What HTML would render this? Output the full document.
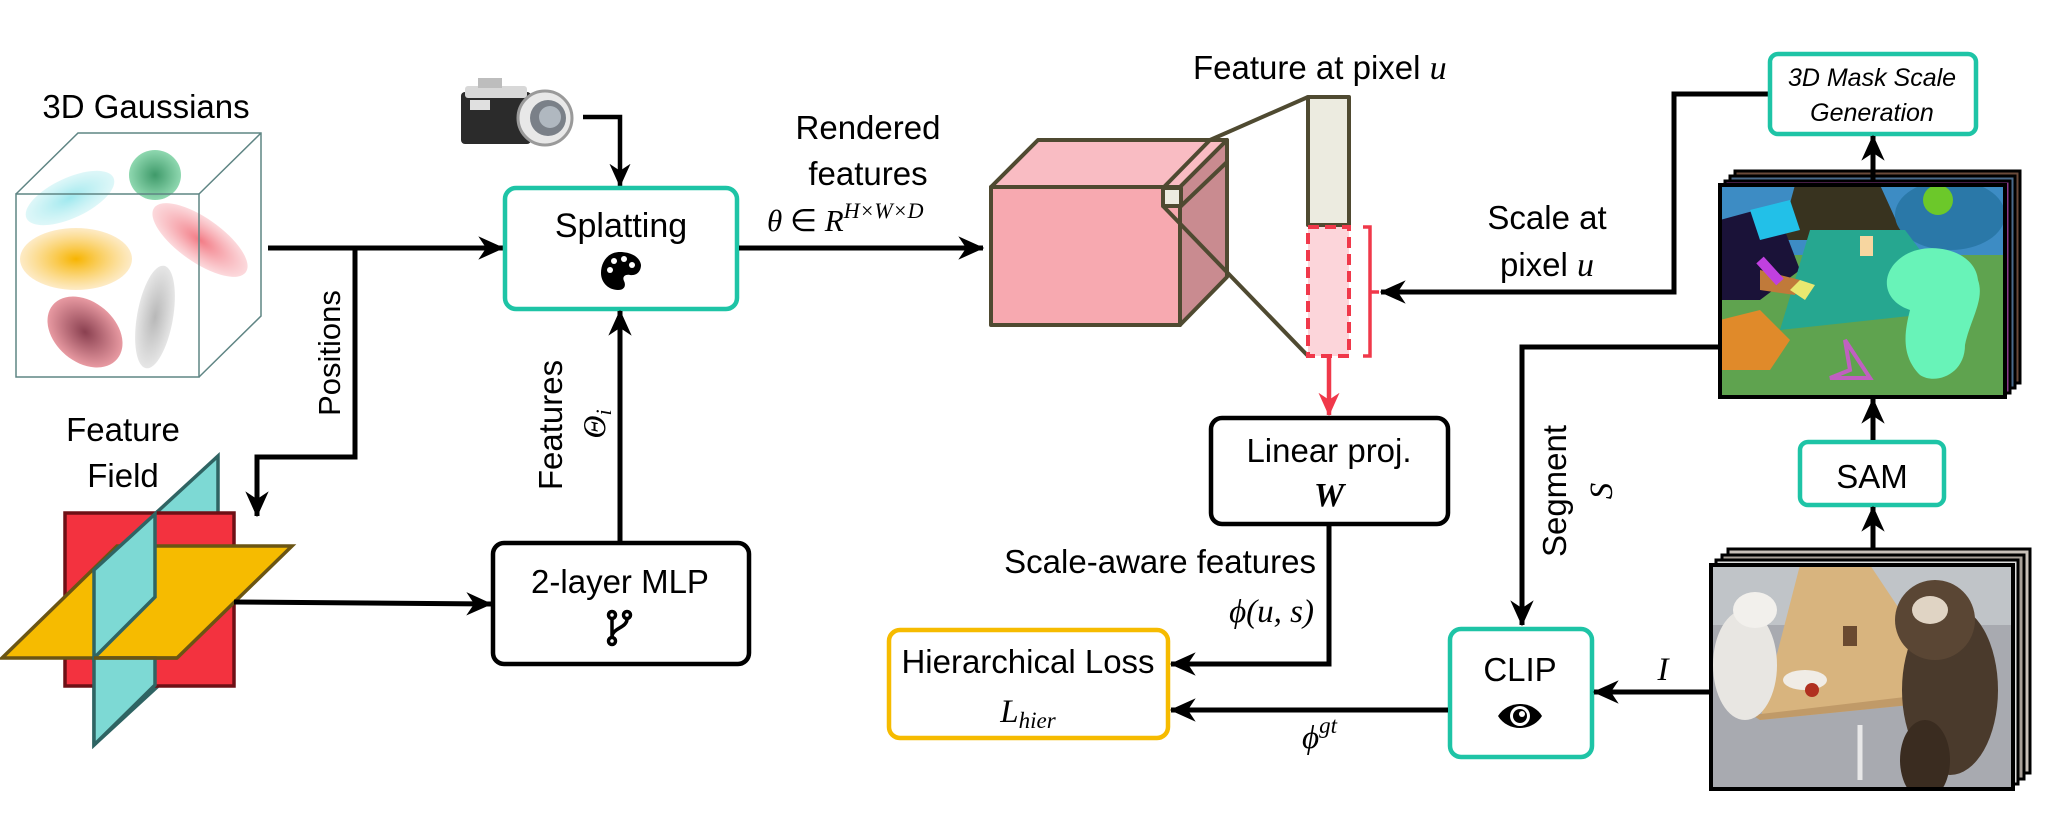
<!DOCTYPE html>
<html><head><meta charset="utf-8"><style>
html,body{margin:0;padding:0;background:#fff;}
svg{display:block;}
text{font-family:"Liberation Sans",sans-serif;fill:#000;}
.m{font-family:"Liberation Serif",serif;font-style:italic;}
</style></head><body>
<svg width="2048" height="832" viewBox="0 0 2048 832" xmlns="http://www.w3.org/2000/svg">
<defs>
<marker id="ah" viewBox="0 0 20 20" refX="19" refY="10" markerWidth="5.2" markerHeight="5.2" markerUnits="strokeWidth" orient="auto">
<path d="M0,1 L20,10 L0,19 L6,10 z" fill="#000"/></marker>
<marker id="ahr" viewBox="0 0 20 20" refX="19" refY="10" markerWidth="5.2" markerHeight="5.2" markerUnits="strokeWidth" orient="auto">
<path d="M0,1 L20,10 L0,19 L6,10 z" fill="#f0384a"/></marker>
<radialGradient id="gc"><stop offset="0" stop-color="#9ee8ee"/><stop offset="1" stop-color="#c8f2f4" stop-opacity=".6"/></radialGradient>
<radialGradient id="gg"><stop offset="0" stop-color="#3f9a6a"/><stop offset="1" stop-color="#8fd8b0"/></radialGradient>
<radialGradient id="gy"><stop offset="0" stop-color="#f7b400"/><stop offset="1" stop-color="#fde6b8" stop-opacity=".8"/></radialGradient>
<radialGradient id="gr"><stop offset="0" stop-color="#f27b85"/><stop offset="1" stop-color="#fbd0d4" stop-opacity=".8"/></radialGradient>
<radialGradient id="gd"><stop offset="0" stop-color="#8a4050"/><stop offset="1" stop-color="#e89aa2"/></radialGradient>
<radialGradient id="gs"><stop offset="0" stop-color="#b8b8b8"/><stop offset="1" stop-color="#e6e6e6"/></radialGradient>
<clipPath id="segc"><rect x="1720" y="185" width="285" height="212"/></clipPath>
<clipPath id="phc"><rect x="1711" y="565" width="302" height="224"/></clipPath>
</defs>

<!-- 3D Gaussians -->
<text x="146" y="118" font-size="33" text-anchor="middle">3D Gaussians</text>
<g>
<ellipse cx="70" cy="198" rx="48" ry="20" transform="rotate(-25 70 198)" fill="url(#gc)"/>
<ellipse cx="155" cy="175" rx="26" ry="25" fill="url(#gg)"/>
<ellipse cx="76" cy="259" rx="56" ry="31" fill="url(#gy)"/>
<ellipse cx="200" cy="240" rx="56" ry="22" transform="rotate(35 200 240)" fill="url(#gr)"/>
<ellipse cx="85" cy="332" rx="42" ry="30" transform="rotate(40 85 332)" fill="url(#gd)"/>
<ellipse cx="155" cy="317" rx="18" ry="52" transform="rotate(10 155 317)" fill="url(#gs)"/>
</g>
<g fill="none" stroke="#5f8584" stroke-width="1.5">
<rect x="16" y="194" width="183" height="183"/>
<path d="M16,194 L78,133 L261,133 L261,316 L199,377 M199,194 L261,133"/>
</g>

<!-- Camera -->
<g>
<rect x="461" y="92" width="70" height="52" rx="4" fill="#2b2b2b"/>
<rect x="465" y="86" width="62" height="12" rx="3" fill="#d8d8d8"/>
<rect x="478" y="78" width="24" height="10" fill="#bdbdbd"/>
<rect x="470" y="100" width="20" height="10" fill="#e0e0e0"/>
<circle cx="545" cy="118" r="27" fill="#e8e8e8" stroke="#9a9a9a" stroke-width="3"/>
<circle cx="548" cy="118" r="18" fill="#7a8088"/>
<circle cx="550" cy="117" r="11" fill="#b0b8c0"/>
</g>
<polyline points="583,117 620,117 620,186" fill="none" stroke="#000" stroke-width="4.5" marker-end="url(#ah)"/>

<!-- main arrows left -->
<line x1="268" y1="248" x2="503" y2="248" stroke="#000" stroke-width="5" marker-end="url(#ah)"/>
<polyline points="355,248 355,457 257,457 257,516" fill="none" stroke="#000" stroke-width="5" marker-end="url(#ah)"/>
<text transform="translate(340,353) rotate(-90)" font-size="31" text-anchor="middle">Positions</text>

<!-- Splatting -->
<rect x="505" y="188" width="232" height="121" rx="11" fill="#fff" stroke="#1ec4a6" stroke-width="4.5"/>
<text x="621" y="237" font-size="34" text-anchor="middle">Splatting</text>
<g transform="translate(621,271)">
<path d="M-1,-19 C-14,-19 -20,-8 -20,2 C-20,12 -12,19 -3,19 C4,19 5,14 3,10 C1,6 4,3 9,4 C16,5 20,0 20,-6 C19,-14 10,-19 -1,-19 Z" fill="#000"/>
<circle cx="-11" cy="-1" r="3" fill="#fff"/><circle cx="-7" cy="-10" r="3" fill="#fff"/><circle cx="3" cy="-12" r="3" fill="#fff"/><circle cx="11" cy="-6" r="3" fill="#fff"/>
</g>
<line x1="620" y1="541" x2="620" y2="311" stroke="#000" stroke-width="5" marker-end="url(#ah)"/>
<text transform="translate(562,425) rotate(-90)" font-size="33" text-anchor="middle">Features</text>
<text transform="translate(605,424) rotate(-90)" class="m" font-size="32" text-anchor="middle">Θ<tspan font-size="22" dy="6">i</tspan></text>

<!-- Rendered features -->
<text x="868" y="139" font-size="33" text-anchor="middle">Rendered</text>
<text x="868" y="185" font-size="33" text-anchor="middle">features</text>
<text x="767" y="231" font-size="31" class="m">θ <tspan font-style="normal">∈</tspan> R<tspan font-size="22" dy="-13">H×W×D</tspan></text>
<line x1="739" y1="248" x2="983" y2="248" stroke="#000" stroke-width="5" marker-end="url(#ah)"/>

<!-- Feature field -->
<text x="123" y="441" font-size="33" text-anchor="middle">Feature</text>
<text x="123" y="487" font-size="33" text-anchor="middle">Field</text>
<g stroke-width="3.5" stroke-linejoin="miter">
<polygon points="94,570 218,456 218,631 94,745" fill="#7dd9d4" stroke="#2f6463"/>
<rect x="65" y="513" width="169" height="173" fill="#f3323f" stroke="#6e1016"/>
<polygon points="2,658 177,658 292,546 117,546" fill="#f6bb00" stroke="#6b5513"/>
<polygon points="94,570 155,514 155,597 94,658" fill="#7dd9d4" stroke="#2f6463"/>
<polygon points="94,658 155,658 155,685 94,745" fill="#7dd9d4" stroke="#2f6463"/>
<line x1="94" y1="658" x2="177" y2="658" stroke="#6b5513"/>
</g>
<line x1="234" y1="602" x2="491" y2="604" stroke="#000" stroke-width="5" marker-end="url(#ah)"/>

<!-- MLP -->
<rect x="493" y="543" width="256" height="121" rx="11" fill="#fff" stroke="#000" stroke-width="4.5"/>
<text x="620" y="593" font-size="33" text-anchor="middle">2-layer MLP</text>
<g transform="translate(619,628)" fill="none" stroke="#000" stroke-width="3.5">
<circle cx="-7" cy="-13" r="3.5"/><circle cx="-7" cy="13" r="3.5"/><circle cx="8" cy="-13" r="3.5"/>
<path d="M-7,-9 V9 M8,-9 C8,0 -7,0 -7,9"/>
</g>

<!-- Pink cube -->
<g stroke="#4f4a31" stroke-width="4" stroke-linejoin="round">
<polygon points="991,187 1038,140 1227,140 1180,187" fill="#f9bcc3"/>
<polygon points="1180,187 1227,140 1227,277 1180,325" fill="#c98b90"/>
<rect x="991" y="187" width="189" height="138" fill="#f7a9b0"/>
<polyline points="1163,188 1210,140" fill="none"/>
<polyline points="1181,206 1227,162" fill="none"/>
<rect x="1163" y="188" width="18" height="18" fill="#ecebe0"/>
<line x1="1210" y1="140" x2="1308" y2="97"/>
<line x1="1163" y1="206" x2="1308" y2="356"/>
<rect x="1308" y="97" width="41" height="128" fill="#ecebe0"/>
</g>
<rect x="1308" y="227" width="41" height="129" fill="#fcd5da" stroke="#f0384a" stroke-width="4" stroke-dasharray="11,6"/>
<polyline points="1363,227 1370,227 1370,356 1363,356" fill="none" stroke="#f0384a" stroke-width="3.5"/>
<line x1="1370" y1="292" x2="1379" y2="292" stroke="#f0384a" stroke-width="3.5"/>
<line x1="1329" y1="358" x2="1329" y2="415" stroke="#f0384a" stroke-width="4.5" marker-end="url(#ahr)"/>
<text x="1193" y="79" font-size="33">Feature at pixel <tspan class="m" font-size="34">u</tspan></text>

<!-- Scale arrow -->
<polyline points="1769,94 1674,94 1674,292 1381,292" fill="none" stroke="#000" stroke-width="5" marker-end="url(#ah)"/>
<text x="1547" y="229" font-size="33" text-anchor="middle">Scale at</text>
<text x="1547" y="276" font-size="33" text-anchor="middle">pixel <tspan class="m" font-size="34">u</tspan></text>

<!-- 3D Mask box -->
<rect x="1770" y="54" width="206" height="80" rx="8" fill="#fff" stroke="#1ec4a6" stroke-width="4.5"/>
<text x="1872" y="86" font-size="25" font-style="italic" text-anchor="middle">3D Mask Scale</text>
<text x="1872" y="121" font-size="25" font-style="italic" text-anchor="middle">Generation</text>

<!-- Seg stack -->
<rect x="1735" y="171" width="285" height="212" fill="#6a4a3a" stroke="#000" stroke-width="3"/>
<rect x="1730" y="176" width="285" height="212" fill="#4a6a8a" stroke="#000" stroke-width="3"/>
<rect x="1725" y="181" width="285" height="212" fill="#8a3a8a" stroke="#000" stroke-width="3"/>
<g clip-path="url(#segc)">
<rect x="1720" y="185" width="285" height="212" fill="#5fa34f"/>
<rect x="1720" y="185" width="285" height="70" fill="#3d8cc4"/>
<polygon points="1795,185 1880,185 1905,240 1780,240" fill="#38331f"/>
<polygon points="1720,220 1775,205 1800,270 1760,300 1720,300" fill="#1a1238"/>
<polygon points="1750,210 1790,200 1800,230 1760,240" fill="#22c0e8"/>
<ellipse cx="1950" cy="215" rx="55" ry="35" fill="#2a78a8"/>
<ellipse cx="1938" cy="200" rx="15" ry="15" fill="#6cc82a"/>
<polygon points="1810,230 1905,230 1965,310 1780,330" fill="#26a790"/>
<path d="M1905,255 C1930,240 1975,250 1978,280 C1985,300 1970,320 1965,345 C1965,375 1935,385 1920,375 C1900,355 1905,330 1910,310 C1880,300 1880,270 1905,255 Z" fill="#68f3b8"/>
<rect x="1860" y="236" width="13" height="20" fill="#f7d6a0"/>
<polygon points="1720,320 1760,310 1790,340 1770,370 1720,370" fill="#e08a2a"/>
<polygon points="1760,270 1800,280 1795,295 1760,290" fill="#c07a3a"/>
<polygon points="1790,290 1800,280 1815,285 1805,300" fill="#e8e870"/>
<polygon points="1845,340 1850,370 1830,378 1870,378" fill="none" stroke="#c060c0" stroke-width="4"/>
<line x1="1780" y1="282" x2="1760" y2="260" stroke="#c040e0" stroke-width="10"/>
</g>
<rect x="1720" y="185" width="285" height="212" fill="none" stroke="#000" stroke-width="4"/>
<line x1="1873" y1="182" x2="1873" y2="136" stroke="#000" stroke-width="5" marker-end="url(#ah)"/>

<!-- Segment line -->
<polyline points="1720,347 1522,347 1522,625" fill="none" stroke="#000" stroke-width="5" marker-end="url(#ah)"/>
<text transform="translate(1566,491) rotate(-90)" font-size="33" text-anchor="middle">Segment</text>
<text transform="translate(1612,491) rotate(-90)" class="m" font-size="33" text-anchor="middle">S</text>

<!-- SAM -->
<rect x="1800" y="442" width="144" height="63" rx="8" fill="#fff" stroke="#1ec4a6" stroke-width="4.5"/>
<text x="1872" y="488" font-size="33" text-anchor="middle">SAM</text>
<line x1="1873" y1="440" x2="1873" y2="399" stroke="#000" stroke-width="5" marker-end="url(#ah)"/>
<line x1="1873" y1="549" x2="1873" y2="507" stroke="#000" stroke-width="5" marker-end="url(#ah)"/>

<!-- Photo stack -->
<rect x="1728" y="549" width="302" height="224" fill="#c8c0b8" stroke="#000" stroke-width="3"/>
<rect x="1722" y="555" width="302" height="224" fill="#a8a098" stroke="#000" stroke-width="3"/>
<rect x="1716" y="560" width="302" height="224" fill="#ddd" stroke="#000" stroke-width="3"/>
<g clip-path="url(#phc)">
<rect x="1711" y="565" width="302" height="224" fill="#a8aab0"/>
<rect x="1711" y="565" width="302" height="60" fill="#c0c4c8"/>
<polygon points="1800,565 1870,565 1960,700 1760,720" fill="#d8b47e"/>
<polygon points="1760,720 1960,700 1965,690 1752,715" fill="#c09a68"/>
<ellipse cx="1745" cy="665" rx="32" ry="55" fill="#e8e6e2"/>
<ellipse cx="1755" cy="610" rx="22" ry="18" fill="#f2f0ec"/>
<ellipse cx="1950" cy="690" rx="48" ry="85" fill="#4a3a2c"/>
<ellipse cx="1935" cy="620" rx="40" ry="40" fill="#5a4634"/>
<ellipse cx="1930" cy="610" rx="18" ry="14" fill="#e0d4c4"/>
<ellipse cx="1925" cy="760" rx="25" ry="40" fill="#3a2c20"/>
<ellipse cx="1805" cy="680" rx="22" ry="10" fill="#f0ece6"/>
<circle cx="1812" cy="690" r="7" fill="#b03020"/>
<rect x="1843" y="626" width="14" height="20" fill="#6a4a30"/>
<line x1="1860" y1="725" x2="1860" y2="780" stroke="#e8e8e8" stroke-width="5"/>
</g>
<rect x="1711" y="565" width="302" height="224" fill="none" stroke="#000" stroke-width="4"/>

<!-- CLIP -->
<rect x="1450" y="629" width="142" height="128" rx="11" fill="#fff" stroke="#1ec4a6" stroke-width="4.5"/>
<text x="1520" y="681" font-size="33" text-anchor="middle">CLIP</text>
<g transform="translate(1520,716)">
<path d="M-22,0 C-12,-16 12,-16 22,0 C12,16 -12,16 -22,0 Z" fill="#000"/>
<circle r="10" fill="#fff"/><circle r="7" fill="#000"/><circle cx="2" cy="-2" r="3" fill="#fff"/>
</g>
<line x1="1711" y1="692" x2="1594" y2="692" stroke="#000" stroke-width="5" marker-end="url(#ah)"/>
<text x="1663" y="680" class="m" font-size="33" text-anchor="middle">I</text>

<!-- Linear proj -->
<rect x="1211" y="418" width="237" height="106" rx="11" fill="#fff" stroke="#000" stroke-width="4.5"/>
<text x="1329" y="462" font-size="33" text-anchor="middle">Linear proj.</text>
<text x="1329" y="506" font-size="34" font-weight="bold" class="m" text-anchor="middle">W</text>
<polyline points="1329,526 1329,664 1171,664" fill="none" stroke="#000" stroke-width="5" marker-end="url(#ah)"/>
<text x="1316" y="573" font-size="33" text-anchor="end">Scale-aware features</text>
<text x="1314" y="622" class="m" font-size="33" text-anchor="end">ϕ(u, s)</text>

<!-- phi gt -->
<line x1="1448" y1="710" x2="1171" y2="710" stroke="#000" stroke-width="5" marker-end="url(#ah)"/>
<text x="1302" y="748" class="m" font-size="33">ϕ<tspan font-size="23" dy="-15">gt</tspan></text>

<!-- Hierarchical -->
<rect x="889" y="630" width="279" height="108" rx="11" fill="#fff" stroke="#f6bb00" stroke-width="4.5"/>
<text x="1028" y="673" font-size="33" text-anchor="middle">Hierarchical Loss</text>
<text x="1028" y="722" class="m" font-size="33" text-anchor="middle">L<tspan font-size="23" dy="6">hier</tspan></text>
</svg>
</body></html>
